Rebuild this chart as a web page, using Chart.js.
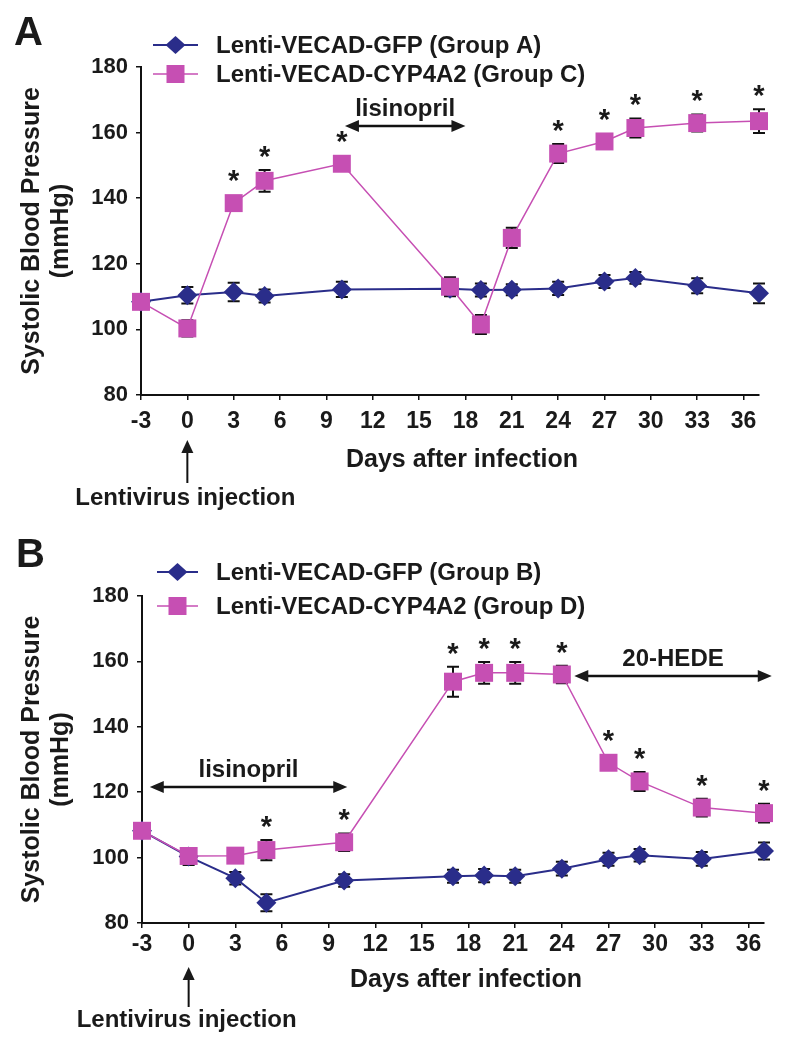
<!DOCTYPE html>
<html>
<head>
<meta charset="utf-8">
<script src="https://cdn.jsdelivr.net/npm/chart.js@4.4.0/dist/chart.umd.min.js"></script>
<style>
  body { margin: 0; background: #fff; }
  #wrap { position: relative; width: 787px; height: 1048px; }
  .panel { position: absolute; left: 0; width: 787px; }
</style>
</head>
<body>
<div id="wrap">
  <div class="panel" style="top:0;height:520px"><canvas id="chartA"></canvas></div>
  <div class="panel" style="top:520px;height:528px"><canvas id="chartB"></canvas></div>
</div>
<script>
// sampling days (same for both panels)
const days = [-3, 0, 3, 5, 10, 17, 19, 21, 24, 27, 29, 33, 37];
const xTicks = [-3, 0, 3, 6, 9, 12, 15, 18, 21, 24, 27, 30, 33, 36];
const yTicks = [80, 100, 120, 140, 160, 180];

// panel A
const gfpA = [108.4, 110.4, 111.4, 110.2, 112.2, 112.4, 112.0, 112.1, 112.5, 114.6, 115.7, 113.3, 111.0];
const gfpAErr = [0, 2.5, 2.8, 2.0, 2.3, 2.0, 2.0, 1.7, 2.0, 2.0, 1.8, 2.3, 3.0];
const cypC = [108.4, 100.3, 138.5, 145.3, 150.5, 113.0, 101.5, 127.9, 153.6, 157.3, 161.4, 162.9, 163.5];
const cypCErr = [0, 2.5, 2.0, 3.3, 2.0, 2.9, 2.9, 3.1, 2.9, 2.2, 2.9, 2.6, 3.6];
const starsA = [3, 5, 10, 24, 27, 29, 33, 37];
const lisinoprilA = [10.2, 18];

// panel B
const gfpB = [108.2, 100.3, 93.7, 86.2, 93.0, 94.3, 94.5, 94.3, 96.6, 99.5, 100.7, 99.6, 102.0];
const gfpBErr = [0, 2.6, 1.9, 2.6, 1.9, 2.0, 2.0, 2.0, 2.1, 2.0, 1.9, 2.1, 2.6];
const cypD = [108.2, 100.5, 100.6, 102.3, 104.7, 153.8, 156.5, 156.5, 156.0, 129.0, 123.3, 115.3, 113.6];
const cypDErr = [0, 0, 0, 3.1, 2.7, 4.6, 3.3, 3.3, 2.7, 0, 2.9, 2.7, 2.9];
const starsB = [5, 10, 17, 19, 21, 24, 27, 29, 33, 37];
const lisinoprilB = [-2.5, 10.2];
const hedeB = [24.8, 37.5];

const BLUE = '#2a2d8a';
const PINK = '#c64fb3';
const FONT = '"Liberation Sans", Arial, sans-serif';

Chart.defaults.font.family = FONT;
Chart.defaults.font.weight = 'bold';
Chart.defaults.color = '#1a1a1a';

function points(vals) {
  return days.map((d, i) => ({ x: d, y: vals[i] }));
}

function hArrow(ctx, x1, x2, y) {
  const len = 14, hw = 6;
  ctx.beginPath();
  ctx.moveTo(x1 + len - 2, y);
  ctx.lineTo(x2 - len + 2, y);
  ctx.stroke();
  ctx.beginPath();
  ctx.moveTo(x1, y); ctx.lineTo(x1 + len, y - hw); ctx.lineTo(x1 + len, y + hw); ctx.closePath();
  ctx.moveTo(x2, y); ctx.lineTo(x2 - len, y - hw); ctx.lineTo(x2 - len, y + hw); ctx.closePath();
  ctx.fill();
}

function vArrow(ctx, x, yBottom, yTip) {
  const len = 13, hw = 6;
  ctx.beginPath();
  ctx.moveTo(x, yBottom);
  ctx.lineTo(x, yTip + len - 2);
  ctx.stroke();
  ctx.beginPath();
  ctx.moveTo(x, yTip); ctx.lineTo(x - hw, yTip + len); ctx.lineTo(x + hw, yTip + len); ctx.closePath();
  ctx.fill();
}

// error bars, stars, arrows, legend and the other labels
const panelDecor = {
  id: 'panelDecor',
  beforeDatasetsDraw(chart, args, o) {
    const ctx = chart.ctx, xs = chart.scales.x, ys = chart.scales.y;
    ctx.save();
    ctx.strokeStyle = '#111';
    ctx.lineWidth = 2;
    o.errors.forEach((errs, di) => {
      chart.data.datasets[di].data.forEach((p, i) => {
        const e = errs[i];
        if (!e) return;
        const px = xs.getPixelForValue(p.x);
        const top = ys.getPixelForValue(p.y + e);
        const bot = ys.getPixelForValue(p.y - e);
        ctx.beginPath();
        ctx.moveTo(px, top); ctx.lineTo(px, bot);
        ctx.moveTo(px - 6, top); ctx.lineTo(px + 6, top);
        ctx.moveTo(px - 6, bot); ctx.lineTo(px + 6, bot);
        ctx.stroke();
      });
    });
    ctx.restore();
  },
  afterDraw(chart, args, o) {
    const ctx = chart.ctx, xs = chart.scales.x, ys = chart.scales.y;
    const area = chart.chartArea;
    ctx.save();
    ctx.fillStyle = '#1a1a1a';
    ctx.strokeStyle = '#111';

    // significance stars
    const sVals = o.errors[1];
    const sData = chart.data.datasets[1].data;
    ctx.font = 'bold 29px ' + FONT;
    ctx.textAlign = 'center';
    ctx.textBaseline = 'alphabetic';
    o.stars.forEach(d => {
      const i = days.indexOf(d);
      const top = ys.getPixelForValue(sData[i].y + Math.max(sVals[i], 2.7));
      ctx.fillText('*', xs.getPixelForValue(d), top - 4);
    });

    // treatment arrows
    ctx.lineWidth = 2.5;
    o.arrows.forEach(a => {
      const x1 = xs.getPixelForValue(a.span[0]);
      const x2 = xs.getPixelForValue(a.span[1]);
      const y = ys.getPixelForValue(a.level);
      hArrow(ctx, x1, x2, y);
      ctx.font = 'bold 24px ' + FONT;
      ctx.textBaseline = 'middle';
      ctx.fillText(a.label, (x1 + x2) / 2, y - 17);
    });

    // panel letter
    ctx.textAlign = 'left';
    ctx.textBaseline = 'alphabetic';
    ctx.font = 'bold 40px ' + FONT;
    ctx.fillText(o.letter, o.letterX, o.letterY);

    // legend
    ctx.font = 'bold 24px ' + FONT;
    ctx.textBaseline = 'middle';
    chart.data.datasets.forEach((ds, i) => {
      const y = o.legendY[i];
      ctx.strokeStyle = ds.borderColor;
      ctx.lineWidth = ds.borderWidth;
      ctx.beginPath();
      ctx.moveTo(o.legendX[0], y);
      ctx.lineTo(o.legendX[1], y);
      ctx.stroke();
      const cx = (o.legendX[0] + o.legendX[1]) / 2;
      ctx.fillStyle = ds.pointBackgroundColor;
      ctx.beginPath();
      if (ds.pointStyle === 'rectRot') {
        ctx.moveTo(cx - 10, y); ctx.lineTo(cx, y - 9); ctx.lineTo(cx + 10, y); ctx.lineTo(cx, y + 9);
        ctx.closePath();
      } else {
        ctx.rect(cx - 9, y - 9, 18, 18);
      }
      ctx.fill();
      ctx.fillStyle = '#1a1a1a';
      ctx.fillText(ds.label, o.legendX[2], y + 1);
    });

    // axis titles
    ctx.textAlign = 'center';
    ctx.font = 'bold 25px ' + FONT;
    ctx.fillText('Days after infection', o.xTitleX, o.xTitleY);
    const yc = (area.top + area.bottom) / 2;
    ctx.save();
    ctx.translate(o.yTitleX[0], yc);
    ctx.rotate(-Math.PI / 2);
    ctx.fillText('Systolic Blood Pressure', 0, 0);
    ctx.restore();
    ctx.save();
    ctx.translate(o.yTitleX[1], yc);
    ctx.rotate(-Math.PI / 2);
    ctx.fillText('(mmHg)', 0, 0);
    ctx.restore();

    // injection marker
    const x0 = xs.getPixelForValue(0);
    ctx.strokeStyle = '#111';
    ctx.lineWidth = 2;
    vArrow(ctx, x0, o.injArrow[0], o.injArrow[1]);
    ctx.font = 'bold 24px ' + FONT;
    ctx.fillText('Lentivirus injection', x0 - 2, o.injY);
    ctx.restore();
  }
};

function makeChart(id, series, p) {
  const ctx = document.getElementById(id).getContext('2d');
  return new Chart(ctx, {
    type: 'line',
    data: {
      datasets: [{
        label: series.blueLabel,
        data: points(series.blue),
        borderColor: BLUE,
        backgroundColor: BLUE,
        pointBackgroundColor: BLUE,
        pointBorderWidth: 0,
        borderWidth: 2,
        pointStyle: 'rectRot',
        pointRadius: 10,
        order: 2,
        clip: false
      }, {
        label: series.pinkLabel,
        data: points(series.pink),
        borderColor: PINK,
        backgroundColor: PINK,
        pointBackgroundColor: PINK,
        pointBorderWidth: 0,
        borderWidth: 1.5,
        pointStyle: 'rect',
        pointRadius: 12.7,
        order: 1,
        clip: false
      }]
    },
    options: {
      responsive: true,
      maintainAspectRatio: false,
      animation: false,
      events: [],
      layout: { padding: { top: p.top, right: p.right, left: 0, bottom: 0 } },
      scales: {
        x: {
          type: 'linear',
          min: -3,
          max: 37,
          afterBuildTicks: s => { s.ticks = xTicks.map(v => ({ value: v })); },
          afterFit: s => { s.height = p.xHeight; },
          grid: { drawOnChartArea: false, color: '#111', lineWidth: 1.5, tickLength: 5 },
          border: { color: '#111', width: 2 },
          ticks: { font: { size: 23, weight: 'bold', lineHeight: 1.2 }, padding: p.xPad, maxRotation: 0, autoSkip: false }
        },
        y: {
          min: 80,
          max: 180,
          afterBuildTicks: s => { s.ticks = yTicks.map(v => ({ value: v })); },
          afterFit: s => { s.width = p.left; },
          grid: { drawOnChartArea: false, color: '#111', lineWidth: 1.5, tickLength: 5 },
          border: { color: '#111', width: 2 },
          ticks: { font: { size: 22, weight: 'bold' }, padding: 8 }
        }
      },
      plugins: {
        legend: { display: false },
        tooltip: { enabled: false },
        panelDecor: p.decor
      }
    },
    plugins: [panelDecor]
  });
}

makeChart('chartA', {
  blue: gfpA, pink: cypC,
  blueLabel: 'Lenti-VECAD-GFP (Group A)',
  pinkLabel: 'Lenti-VECAD-CYP4A2 (Group C)'
}, {
  top: 67, right: 28, left: 141, xHeight: 125, xPad: 8,
  decor: {
    errors: [gfpAErr, cypCErr],
    stars: starsA,
    arrows: [{ span: lisinoprilA, level: 162, label: 'lisinopril' }],
    letter: 'A', letterX: 14, letterY: 45,
    legendY: [45, 74], legendX: [153, 198, 216],
    xTitleX: 462, xTitleY: 460,
    yTitleX: [32, 61],
    injArrow: [483, 440], injY: 498
  }
});

makeChart('chartB', {
  blue: gfpB, pink: cypD,
  blueLabel: 'Lenti-VECAD-GFP (Group B)',
  pinkLabel: 'Lenti-VECAD-CYP4A2 (Group D)'
}, {
  top: 76, right: 23, left: 142, xHeight: 125, xPad: 3,
  decor: {
    errors: [gfpBErr, cypDErr],
    stars: starsB,
    arrows: [
      { span: lisinoprilB, level: 121.6, label: 'lisinopril' },
      { span: hedeB, level: 155.5, label: '20-HEDE' }
    ],
    letter: 'B', letterX: 16, letterY: 47,
    legendY: [52, 86], legendX: [157, 198, 216],
    xTitleX: 466, xTitleY: 460,
    yTitleX: [32, 61],
    injArrow: [487, 447], injY: 500
  }
});
</script>
</body>
</html>
